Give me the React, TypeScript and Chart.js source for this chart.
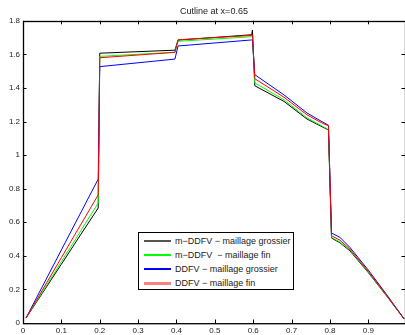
import React, { useEffect, useRef } from "react";
import { Chart, registerables } from "chart.js";

Chart.register(...registerables);

const titleText = "Cutline at x=0.65";

const xs = [0.008, 0.05, 0.1, 0.15, 0.196, 0.2, 0.396, 0.404, 0.596, 0.598, 0.604, 0.68, 0.74, 0.78, 0.796, 0.804, 0.826, 0.852, 0.9, 0.948, 0.993];

const mddfvCoarse = [0.03, 0.176, 0.35, 0.525, 0.685, 1.607, 1.625, 1.685, 1.717, 1.745, 1.413, 1.32, 1.215, 1.168, 1.15, 0.506, 0.478, 0.43, 0.3, 0.16, 0.025];
const mddfvFine = [0.03, 0.183, 0.365, 0.547, 0.715, 1.588, 1.613, 1.678, 1.705, 1.705, 1.43, 1.33, 1.222, 1.172, 1.152, 0.51, 0.482, 0.435, 0.303, 0.161, 0.025];
const ddfvCoarse = [0.03, 0.215, 0.435, 0.655, 0.857, 1.527, 1.572, 1.65, 1.686, 1.686, 1.479, 1.359, 1.251, 1.198, 1.178, 0.536, 0.51, 0.45, 0.315, 0.168, 0.025];
const ddfvFine = [0.03, 0.194, 0.389, 0.584, 0.763, 1.58, 1.612, 1.687, 1.713, 1.713, 1.455, 1.345, 1.24, 1.19, 1.175, 0.52, 0.493, 0.44, 0.307, 0.163, 0.025];

const seriesLabels = [
  "m\u2212DDFV \u2212 maillage grossier",
  "m\u2212DDFV  \u2212 maillage fin",
  "DDFV \u2212 maillage grossier",
  "DDFV \u2212 maillage fin",
];
const seriesColors = ["#000000", "#00ff00", "#0000ff", "#ff0000"];
const legendSampleColors = ["#555555", "#00ff00", "#0000ff", "#ff8080"];
const legendSampleHeights = [2, 2, 2, 3];

const xTickStep = 0.1;
const yTickStep = 0.2;

const FONT = "'Liberation Sans', Arial, Helvetica, sans-serif";

const boxTicksPlugin = {
  id: "boxTicks",
  afterDraw(chart: any) {
    const { ctx, chartArea } = chart;
    const { left, right, top, bottom } = chartArea;
    const xs_ = chart.scales.x;
    const ys_ = chart.scales.y;
    ctx.save();
    ctx.strokeStyle = "#000";
    ctx.lineWidth = 1;
    ctx.beginPath();
    const L = 3.5;
    xs_.ticks.forEach((t: any) => {
      const px = Math.round(xs_.getPixelForValue(t.value)) + 0.5;
      ctx.moveTo(px, bottom);
      ctx.lineTo(px, bottom - L);
      ctx.moveTo(px, top);
      ctx.lineTo(px, top + L);
    });
    ys_.ticks.forEach((t: any) => {
      const py = Math.round(ys_.getPixelForValue(t.value)) + 0.5;
      ctx.moveTo(left, py);
      ctx.lineTo(left + L, py);
      ctx.moveTo(right, py);
      ctx.lineTo(right - L, py);
    });
    ctx.stroke();
    ctx.lineWidth = 1.3;
    ctx.strokeRect(Math.round(left) + 0.5, Math.round(top) + 0.5, right - left, bottom - top);
    ctx.restore();
  },
};

export default function App() {
  const canvasRef = useRef<HTMLCanvasElement | null>(null);

  useEffect(() => {
    document.body.style.margin = "0";
    const canvas = canvasRef.current;
    if (!canvas) return;
    const series = [mddfvCoarse, mddfvFine, ddfvCoarse, ddfvFine];
    const chart = new Chart(canvas, {
      type: "line",
      data: {
        datasets: series.map((vals, i) => ({
          label: seriesLabels[i],
          data: xs.map((x, j) => ({ x, y: vals[j] })),
          borderColor: seriesColors[i],
          backgroundColor: seriesColors[i],
          borderWidth: 1,
          pointRadius: 0,
          tension: 0,
          fill: false,
          order: 4 - i,
        })),
      },
      options: {
        responsive: false,
        animation: false,
        devicePixelRatio: 1,
        layout: { padding: { left: 0, right: 0, top: 0, bottom: 0 } },
        plugins: {
          legend: { display: false },
          tooltip: { enabled: false },
          title: {
            display: true,
            text: titleText,
            fullSize: false,
            color: "#222",
            font: { family: FONT, size: 9, weight: "normal", lineHeight: 1.2 },
            padding: { top: 6, bottom: 4 },
          },
        },
        scales: {
          x: {
            type: "linear",
            min: 0,
            max: 0.9955,
            grid: { display: false, drawTicks: false },
            border: { display: false },
            afterFit: (s: any) => {
              s.height = 12;
            },
            ticks: {
              stepSize: xTickStep,
              includeBounds: false,
              autoSkip: false,
              maxRotation: 0,
              padding: 3,
              color: "#222",
              font: { family: FONT, size: 8 },
              callback: (v: any) => {
                const n = Number(Number(v).toFixed(1));
                return n > 0.95 ? "" : String(n);
              },
            },
          },
          y: {
            type: "linear",
            min: 0,
            max: 1.8,
            grid: { display: false, drawTicks: false },
            border: { display: false },
            afterFit: (s: any) => {
              s.width = 23;
            },
            ticks: {
              stepSize: yTickStep,
              autoSkip: false,
              padding: 3,
              color: "#222",
              font: { family: FONT, size: 8 },
              callback: (v: any) => String(Number(Number(v).toFixed(1))),
            },
          },
        },
      },
      plugins: [boxTicksPlugin],
    } as any);
    return () => chart.destroy();
  }, []);

  return (
    <div style={{ position: "relative", width: 405, height: 335, overflow: "hidden", background: "#fff" }}>
      <canvas ref={canvasRef} width={405} height={335} style={{ display: "block", width: 405, height: 335 }} />
      <div
        style={{
          position: "absolute",
          left: 138,
          top: 232,
          width: 156,
          height: 58,
          boxSizing: "border-box",
          border: "1px solid #000",
          background: "#fff",
          fontFamily: FONT,
          fontSize: 9,
          color: "#222",
        }}
      >
        {seriesLabels.map((lab, i) => (
          <div
            key={i}
            style={{
              position: "absolute",
              left: 0,
              top: 1 + i * 14,
              height: 14,
              width: 154,
              whiteSpace: "pre",
            }}
          >
            <div
              style={{
                position: "absolute",
                left: 5,
                top: 7 - Math.floor(legendSampleHeights[i] / 2),
                width: 27,
                height: legendSampleHeights[i],
                background: legendSampleColors[i],
              }}
            />
            <span style={{ position: "absolute", left: 36, top: 0, lineHeight: "14px" }}>{lab}</span>
          </div>
        ))}
      </div>
    </div>
  );
}
